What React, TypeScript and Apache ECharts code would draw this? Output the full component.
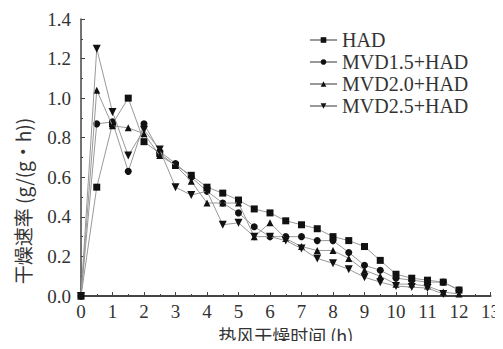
import React, { useEffect, useRef } from "react";
import * as echarts from "echarts";

const times = [0, 0.5, 1, 1.5, 2, 2.5, 3, 3.5, 4, 4.5, 5, 5.5, 6, 6.5, 7, 7.5, 8, 8.5, 9, 9.5, 10, 10.5, 11, 11.5, 12];
const hadValues = [0, 0.55, 0.87, 1.0, 0.78, 0.72, 0.66, 0.61, 0.55, 0.52, 0.485, 0.44, 0.42, 0.38, 0.36, 0.34, 0.30, 0.28, 0.25, 0.18, 0.11, 0.09, 0.08, 0.07, 0.03];
const mvd15Values = [0, 0.87, 0.88, 0.63, 0.87, 0.73, 0.67, 0.60, 0.53, 0.47, 0.42, 0.35, 0.30, 0.30, 0.30, 0.28, 0.28, 0.22, 0.155, 0.13, 0.09, 0.08, 0.07, 0.07, 0.03];
const mvd20Values = [0, 1.04, 0.86, 0.85, 0.82, 0.71, 0.66, 0.58, 0.47, 0.47, 0.47, 0.30, 0.37, 0.29, 0.25, 0.23, 0.23, 0.19, 0.13, 0.10, 0.06, 0.06, 0.05, 0.02, 0.01];
const mvd25Values = [0, 1.25, 0.93, 0.71, 0.84, 0.74, 0.55, 0.51, 0.53, 0.36, 0.37, 0.30, 0.30, 0.28, 0.24, 0.19, 0.165, 0.135, 0.095, 0.07, 0.05, 0.045, 0.04, 0.01];
const seriesNames = ["HAD", "MVD1.5+HAD", "MVD2.0+HAD", "MVD2.5+HAD"];
const seriesSymbols = ["rect", "circle", "triangle", "path://M0,0 L10,0 L5,9 Z"];
const xTitle = "热风干燥时间 (h)";
const yTitle = "干燥速率 (g/(g·h))";

const SERIF = "'Liberation Serif', 'DejaVu Serif', serif";
const CJK = "'Noto Sans CJK SC', 'Liberation Serif', serif";

export default function App() {
  const ref = useRef<HTMLDivElement>(null);
  useEffect(() => {
    if (!ref.current) return;
    const chart = echarts.init(ref.current, undefined, { renderer: "svg" });
    const all = [hadValues, mvd15Values, mvd20Values, mvd25Values];
    chart.setOption({
      animation: false,
      backgroundColor: "#fff",
      grid: { left: 81, right: 12, top: 19, bottom: 53 },
      legend: {
        orient: "vertical",
        left: 304,
        top: 25,
        itemWidth: 27,
        itemHeight: 7,
        itemGap: 2,
        textStyle: { fontFamily: SERIF, fontSize: 20, color: "#333" },
        data: seriesNames,
      },
      graphic: [
        {
          type: "text",
          x: 22,
          y: 201,
          rotation: Math.PI / 2,
          style: {
            text: yTitle,
            font: `19px ${CJK}`,
            fill: "#333",
            align: "center",
            verticalAlign: "middle",
          },
        },
      ],
      xAxis: {
        type: "value",
        min: 0,
        max: 13,
        interval: 1,
        name: xTitle,
        nameLocation: "middle",
        nameGap: 24,
        nameTextStyle: { fontFamily: CJK, fontSize: 18, color: "#333" },
        axisLine: { lineStyle: { color: "#444", width: 2 } },
        axisTick: { inside: true, length: 4, lineStyle: { color: "#444" } },
        minorTick: { show: true, splitNumber: 2, length: 2, lineStyle: { color: "#444" } },
        splitLine: { show: false },
        axisLabel: { fontFamily: SERIF, fontSize: 19, color: "#333", margin: 6 },
      },
      yAxis: {
        type: "value",
        min: 0,
        max: 1.4,
        interval: 0.2,
        axisLine: { show: true, lineStyle: { color: "#444", width: 1.5 } },
        axisTick: { show: true, inside: true, length: 4, lineStyle: { color: "#444" } },
        minorTick: { show: true, splitNumber: 2, length: 2, lineStyle: { color: "#444" } },
        splitLine: { show: false },
        axisLabel: {
          fontFamily: SERIF,
          fontSize: 19,
          color: "#333",
          margin: 10,
          formatter: (v: number) => v.toFixed(1),
        },
      },
      series: all.map((vals, i) => ({
        name: seriesNames[i],
        type: "line",
        data: vals.map((v, j) => [times[j], v]),
        symbol: seriesSymbols[i],
        symbolSize: i === 3 ? 8 : 7,
        showSymbol: true,
        lineStyle: { color: "#999", width: 1 },
        itemStyle: { color: "#111" },
        z: 2 + i,
      })),
    });
    return () => chart.dispose();
  }, []);
  return <div ref={ref} style={{ width: 503, height: 349, margin: -8 }} />;
}
